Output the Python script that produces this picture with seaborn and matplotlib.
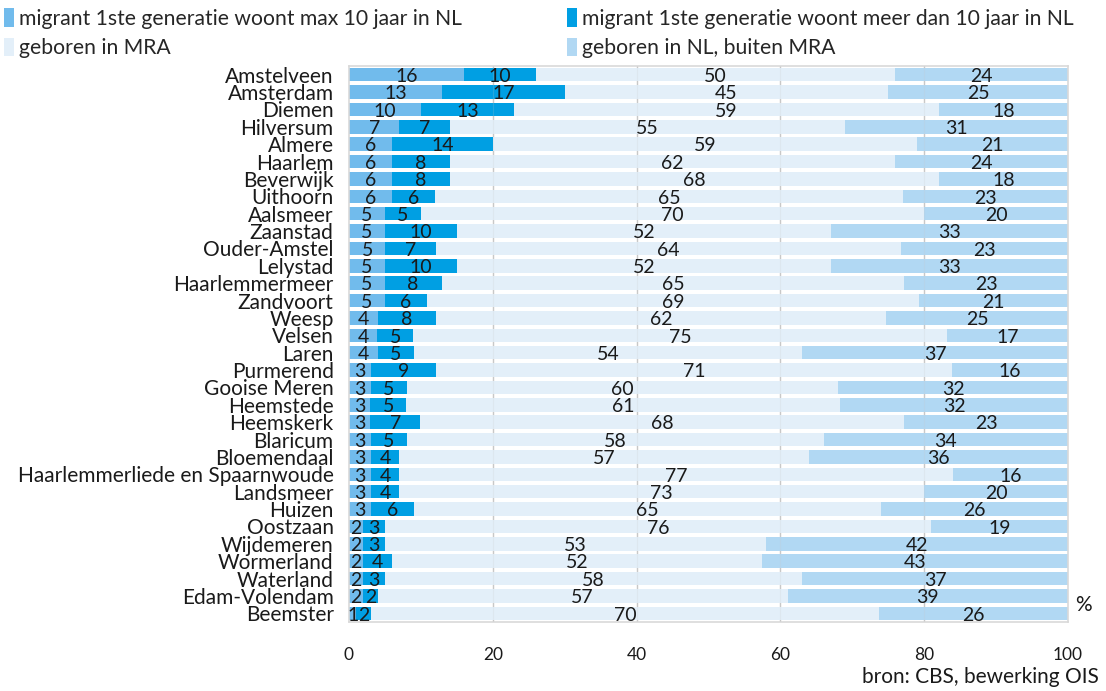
import matplotlib
matplotlib.use("Agg")
import matplotlib.pyplot as plt
import seaborn as sns
import pandas as pd
import numpy as np
from matplotlib.patches import Patch

gemeenten = ["Amstelveen", "Amsterdam", "Diemen", "Hilversum", "Almere", "Haarlem",
             "Beverwijk", "Uithoorn", "Aalsmeer", "Zaanstad", "Ouder-Amstel", "Lelystad",
             "Haarlemmermeer", "Zandvoort", "Weesp", "Velsen", "Laren", "Purmerend",
             "Gooise Meren", "Heemstede", "Heemskerk", "Blaricum", "Bloemendaal",
             "Haarlemmerliede en Spaarnwoude", "Landsmeer", "Huizen", "Oostzaan",
             "Wijdemeren", "Wormerland", "Waterland", "Edam-Volendam", "Beemster"]
migrant_max10 = [16, 13, 10, 7, 6, 6, 6, 6, 5, 5, 5, 5, 5, 5, 4, 4, 4, 3, 3, 3, 3, 3, 3, 3, 3, 3, 2, 2, 2, 2, 2, 1]
migrant_meer10 = [10, 17, 13, 7, 14, 8, 8, 6, 5, 10, 7, 10, 8, 6, 8, 5, 5, 9, 5, 5, 7, 5, 4, 4, 4, 6, 3, 3, 4, 3, 2, 2]
geboren_mra = [50, 45, 59, 55, 59, 62, 68, 65, 70, 52, 64, 52, 65, 69, 62, 75, 54, 71, 60, 61, 68, 58, 57, 77, 73, 65, 76, 53, 52, 58, 57, 70]
geboren_nl = [24, 25, 18, 31, 21, 24, 18, 23, 20, 33, 23, 33, 23, 21, 25, 17, 37, 16, 32, 32, 23, 34, 36, 16, 20, 26, 19, 42, 43, 37, 39, 26]

series_names = ["migrant 1ste generatie woont max 10 jaar in NL",
                "migrant 1ste generatie woont meer dan 10 jaar in NL",
                "geboren in MRA",
                "geboren in NL, buiten MRA"]
colors = ["#71bbec", "#009fe3", "#e3eff9", "#b1d8f3"]
x_ticks = [0, 20, 40, 60, 80, 100]

FONT = ["Lato", "DejaVu Sans"]
sns.set_theme(style="white")
plt.rcParams["font.family"] = FONT

vals = np.array([migrant_max10, migrant_meer10, geboren_mra, geboren_nl], dtype=float)
scaled = vals / vals.sum(axis=0) * 100  # 100% stacked
cum = np.cumsum(scaled, axis=0)

df = pd.DataFrame({"gemeente": gemeenten})
for i in range(4):
    df[f"cum{i}"] = cum[i]

fig = plt.figure(figsize=(11.06, 6.91), dpi=100)
ax = fig.add_axes([349 / 1106, 1 - 622 / 691, (1068 - 349) / 1106, (622 - 66) / 691])

for i in [3, 2, 1, 0]:
    sns.barplot(data=df, y="gemeente", x=f"cum{i}", orient="h", color=colors[i],
                saturation=1, width=0.78, ax=ax, zorder=2, linewidth=0)

ax.set_xlim(0, 100)
ax.set_xticks(x_ticks)
ax.set_xticklabels([str(t) for t in x_ticks])
ax.set_xlabel("")
ax.set_ylabel("")
for x in x_ticks[1:-1]:
    ax.axvline(x, color="#c8c8c8", lw=1, zorder=1)
    ax.axvline(x, color="#c8c8c8", lw=0.8, alpha=0.2, zorder=3)
for s in ax.spines.values():
    s.set_color("#d9d9d9")
    s.set_linewidth(1.2)
ax.tick_params(axis="x", length=0, pad=18, labelsize=12.5, labelcolor="#1a1a1a")
ax.tick_params(axis="y", length=0, pad=11, labelsize=15, labelcolor="#1a1a1a")

# data labels at segment centres
starts = np.vstack([np.zeros(len(gemeenten)), cum[:-1]])
for i in range(4):
    for j in range(len(gemeenten)):
        xc = starts[i, j] + scaled[i, j] / 2
        ax.text(xc, j + 0.1, str(int(vals[i, j])), ha="center", va="center",
                fontsize=14, color="#1a1a1a", zorder=4)

# legends
h = [Patch(facecolor=c, edgecolor="none") for c in colors]
leg_kw = dict(frameon=False, fontsize=15.2, handlelength=0.45, handleheight=1.0,
              handletextpad=0.25, labelspacing=0.42, borderpad=0, borderaxespad=0,
              loc="upper left")
fig.legend([h[0], h[2]], [series_names[0], series_names[2]],
           bbox_to_anchor=(4 / 1106, 1 - 8 / 691), **leg_kw)
fig.legend([h[1], h[3]], [series_names[1], series_names[3]],
           bbox_to_anchor=(567 / 1106, 1 - 8 / 691), **leg_kw)

fig.text(1083 / 1106, 1 - 605 / 691, "%", ha="center", va="center", fontsize=15, color="#1a1a1a")
fig.text(1099 / 1106, 1 - 677 / 691, "bron: CBS, bewerking OIS", ha="right", va="center",
         fontsize=15, color="#1a1a1a")

fig.savefig("out.png", dpi=100)
